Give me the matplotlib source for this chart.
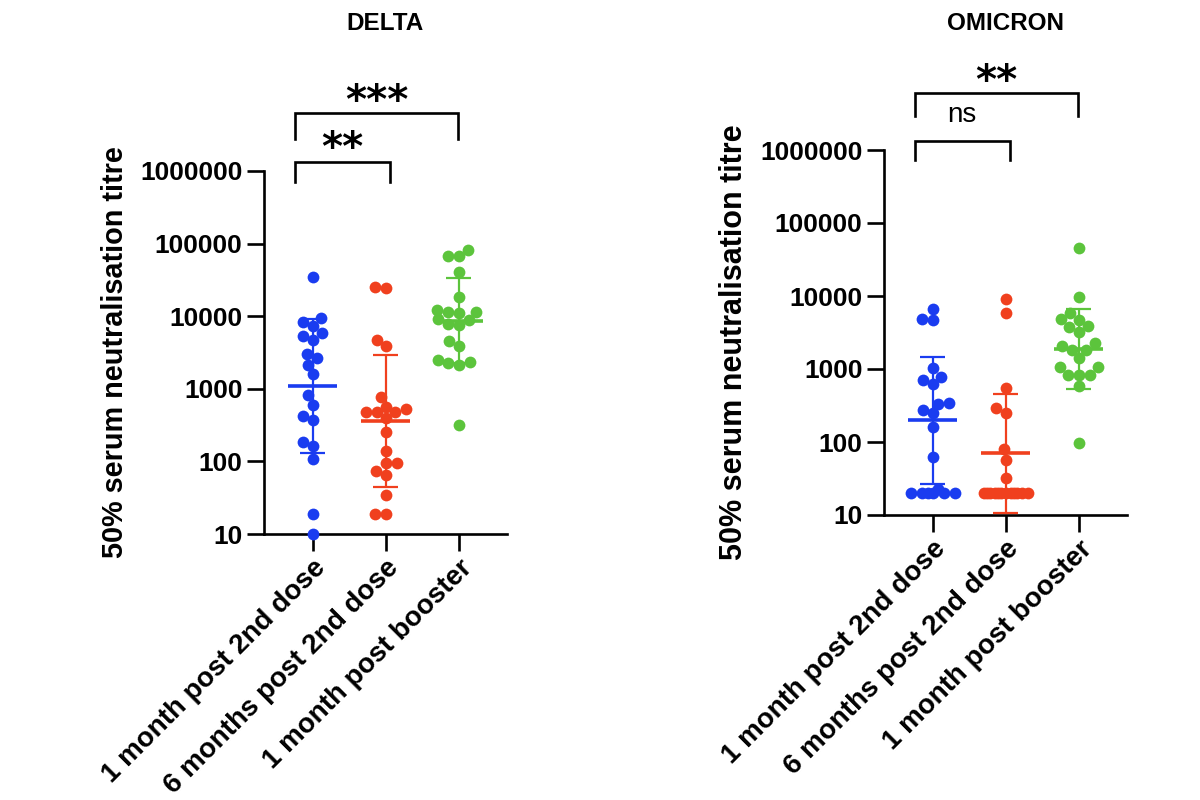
import numpy as np
import matplotlib
matplotlib.use('Agg')
import matplotlib.pyplot as plt
from matplotlib.ticker import NullLocator

plt.rcParams['font.family'] = ['Liberation Sans', 'DejaVu Sans']

## Data
groups = ['1 month post 2nd dose', '6 months post 2nd dose', '1 month post booster']
colors = ['#1a3cf0', '#f0401e', '#5cc43c']
yticks = [10, 100, 1000, 10000, 100000, 1000000]

# DELTA titres
delta_1m = [35000, 8240, 9350, 7400, 5340, 5800, 4700, 2630, 3020, 2140,
            1590, 815, 600, 426, 370, 187, 162, 107, 19, 10]
delta_6m = [24300, 25500, 3930, 4700, 764, 484, 484, 567, 484, 525,
            393, 251, 139, 96, 96, 65, 74, 35, 19, 19]
delta_boost = [67600, 81600, 67600, 41000, 18600, 11500, 11500, 12200, 10950, 7900,
               7500, 8900, 9100, 4600, 3900, 2500, 2250, 2360, 2140, 316]
# geometric mean, lower and upper error bar
delta_mean = [1100, 363, 8700]
delta_lo = [130, 45, 2270]
delta_hi = [9100, 2920, 33400]

# OMICRON titres
omi_1m = [6580, 4790, 4680, 1020, 785, 706, 623, 345, 330, 275,
          246, 162, 63, 23, 20, 20, 20, 20, 20, 20]
omi_6m = [9000, 5770, 550, 290, 247, 79, 57, 32, 20, 20,
          20, 20, 20, 20, 20, 20, 20, 20, 20, 20]
omi_boost = [45000, 9800, 5770, 4790, 4680, 3800, 3900, 3240, 1820, 1820,
             2050, 2240, 1400, 1050, 1050, 830, 830, 830, 585, 98]
omi_mean = [200, 70, 1880]
omi_lo = [27, 10.5, 540]
omi_hi = [1470, 455, 6600]


def swarm_offsets(ax, xc, vals, diam=10.5, max_px=22):
    # simple beeswarm in pixel space, returns x offsets in data units
    tr = ax.transData
    vals = np.asarray(vals, dtype=float)
    ypx = tr.transform(np.column_stack([np.full(len(vals), xc), vals]))[:, 1]
    unit = tr.transform((xc + 1, vals[0]))[0] - tr.transform((xc, vals[0]))[0]
    cands = np.arange(-max_px, max_px + 0.1, 1.0)
    cands = cands[np.argsort(np.abs(cands), kind='stable')]
    px, py = [], []
    offs = np.zeros(len(vals))
    for i in np.argsort(ypx):
        best, best_d = 0.0, -1.0
        for c in cands:
            d = np.min(np.hypot(np.array(px) - c, np.array(py) - ypx[i])) if px else np.inf
            if d >= diam:
                best = c
                break
            if d > best_d:
                best_d, best = d, c
        px.append(best)
        py.append(ypx[i])
        offs[i] = best / unit
    return offs


def bracket(ax, x1, x2, y, leg, text, dy, **kw):
    ax.plot([x1, x1, x2, x2], [leg, y, y, leg], color='black', lw=1.9,
            clip_on=False, solid_joinstyle='miter')
    ax.annotate(text, xy=((x1 + x2) / 2, y), xytext=(0, dy),
                textcoords='offset points', ha='center', va='baseline',
                annotation_clip=False, **kw)


def panel(ax, series, means, los, his, label_size, label_y):
    ax.set_yscale('log')
    ax.set_ylim(10, 1e6)
    ax.set_xlim(-0.67, 2.66)
    for i, vals in enumerate(series):
        xs = i + swarm_offsets(ax, i, vals)
        ax.scatter(xs, vals, s=72, color=colors[i], linewidths=0, zorder=3,
                   clip_on=False)
        ax.vlines(i, los[i], his[i], color=colors[i], lw=1.6, zorder=4)
        ax.hlines([los[i], his[i]], i - 0.17, i + 0.17, color=colors[i], lw=1.6, zorder=4)
        ax.hlines(means[i], i - 0.335, i + 0.335, color=colors[i], lw=2.6, zorder=4)
    for s in ['top', 'right']:
        ax.spines[s].set_visible(False)
    for s in ['left', 'bottom']:
        ax.spines[s].set_linewidth(1.9)
    ax.set_yticks(yticks)
    ax.set_yticklabels([str(t) for t in yticks], fontsize=19, fontweight='bold')
    ax.yaxis.set_minor_locator(NullLocator())
    ax.set_xticks(range(3))
    ax.set_xticklabels(groups, rotation=45, ha='right', va='top',
                       rotation_mode='anchor', fontsize=20, fontweight='bold')
    ax.tick_params(length=12, width=1.9)
    ax.tick_params(axis='x', pad=3)
    ax.set_ylabel('50% serum neutralisation titre', fontsize=label_size,
                  fontweight='bold')
    ax.yaxis.set_label_coords(-0.556, label_y)


fig = plt.figure(figsize=(12, 8), dpi=100)
ax1 = fig.add_axes([264 / 1200, 1 - 534 / 800, 243 / 1200, 363 / 800])
ax2 = fig.add_axes([884 / 1200, 1 - 515 / 800, 243 / 1200, 365 / 800])

panel(ax1, [delta_1m, delta_6m, delta_boost], delta_mean, delta_lo, delta_hi, 20.8, 0.5)
panel(ax2, [omi_1m, omi_6m, omi_boost], omi_mean, omi_lo, omi_hi, 22, 0.474)

star = dict(fontsize=29, fontweight='bold', family='DejaVu Sans')
bracket(ax1, -0.25, 1.05, 1.34e6, 7.1e5, '**', 1, **star)
bracket(ax1, -0.25, 1.99, 6.3e6, 2.8e6, '***', 0, **star)
bracket(ax2, -0.25, 1.05, 1.33e6, 7.4e5, 'ns', 14, fontsize=20)
bracket(ax2, -0.25, 1.99, 6.1e6, 2.9e6, '**', 0, **star)

title_font = dict(ha='center', va='center', fontsize=17.5, fontweight='bold')
fig.text(385 / 1200, 1 - 23 / 800, 'DELTA', **title_font)
fig.text(1005 / 1200, 1 - 23 / 800, 'OMICRON', **title_font)

fig.savefig('out.png', dpi=100)
